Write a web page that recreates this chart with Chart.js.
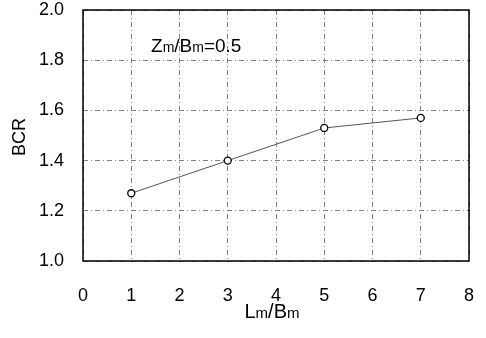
<!DOCTYPE html>
<html>
<head>
<meta charset="utf-8">
<style>
  html, body { margin: 0; padding: 0; background: #fff; }
  #wrap { width: 486px; height: 338px; }
</style>
<script src="https://cdn.jsdelivr.net/npm/chart.js@4.4.1/dist/chart.umd.min.js"></script>
</head>
<body>
<div id="wrap"><canvas id="bcrChart"></canvas></div>
<script>
// Data
const lmBm = [1, 3, 5, 7];
const bcr = [1.27, 1.40, 1.53, 1.57];
const xTicks = [0, 1, 2, 3, 4, 5, 6, 7, 8];
const yTicks = [1.0, 1.2, 1.4, 1.6, 1.8, 2.0];

const FONT = "'Liberation Sans', Arial, sans-serif";

// draw text like "Lm/Bm" where the 'm' is small
function drawMixed(ctx, parts, x, y, align) {
  let total = 0;
  parts.forEach((p) => {
    ctx.font = p.size + "px " + FONT;
    p.w = ctx.measureText(p.t).width;
    total += p.w;
  });
  let cx = align === "center" ? x - total / 2 : x;
  ctx.textAlign = "left";
  ctx.textBaseline = "alphabetic";
  parts.forEach((p) => {
    ctx.font = p.size + "px " + FONT;
    ctx.fillText(p.t, cx, y);
    cx += p.w;
  });
}

const labelsPlugin = {
  id: "labels",
  afterDraw(chart) {
    const ctx = chart.ctx;
    const area = chart.chartArea;
    const xs = chart.scales.x;
    const ys = chart.scales.y;
    ctx.save();
    ctx.fillStyle = "#000";

    // frame around the plot
    ctx.strokeStyle = "#000";
    ctx.lineWidth = 1.5;
    ctx.strokeRect(area.left, area.top, area.right - area.left, area.bottom - area.top);

    // annotation inside the plot
    drawMixed(ctx, [
      { t: "Z", size: 19 }, { t: "m", size: 14 }, { t: "/B", size: 19 },
      { t: "m", size: 14 }, { t: "=0.5", size: 19 }
    ], xs.getPixelForValue(1.41), ys.getPixelForValue(1.832), "left");

    // x axis title
    drawMixed(ctx, [
      { t: "L", size: 20 }, { t: "m", size: 15 }, { t: "/B", size: 20 }, { t: "m", size: 15 }
    ], 272, 318, "center");

    // y axis title
    ctx.translate(25, 137);
    ctx.rotate(-Math.PI / 2);
    ctx.font = "18px " + FONT;
    ctx.textAlign = "center";
    ctx.textBaseline = "alphabetic";
    ctx.fillText("BCR", 0, 0);
    ctx.restore();
  }
};

const gridStyle = {
  color: "#808080",
  lineWidth: 1,
  drawTicks: false
};

function noPad(s) {
  s.paddingTop = 0;
  s.paddingBottom = 0;
  s.paddingLeft = 0;
  s.paddingRight = 0;
}

new Chart(document.getElementById("bcrChart"), {
  type: "line",
  data: {
    datasets: [{
      data: lmBm.map((x, i) => ({ x: x, y: bcr[i] })),
      borderColor: "#555",
      borderWidth: 1,
      pointRadius: 3.5,
      pointBorderWidth: 1.3,
      pointBorderColor: "#000",
      pointBackgroundColor: "#fff",
      tension: 0
    }]
  },
  options: {
    responsive: true,
    maintainAspectRatio: false,
    animation: false,
    layout: { padding: { top: 10, right: 17, left: 0, bottom: 0 } },
    plugins: {
      legend: { display: false },
      tooltip: { enabled: false }
    },
    scales: {
      x: {
        type: "linear",
        min: 0,
        max: 8,
        afterBuildTicks: (s) => { s.ticks = xTicks.map((v) => ({ value: v })); },
        afterFit: (s) => { s.height = 77; noPad(s); },
        grid: gridStyle,
        border: { display: false, dash: [5, 3, 1, 3] },
        ticks: {
          padding: 24,
          color: "#000",
          font: { family: FONT, size: 18 },
          callback: (v) => String(v)
        }
      },
      y: {
        min: 1.0,
        max: 2.0,
        afterBuildTicks: (s) => { s.ticks = yTicks.map((v) => ({ value: v })); },
        afterFit: (s) => { s.width = 83; noPad(s); },
        grid: gridStyle,
        border: { display: false, dash: [5, 3, 1, 3] },
        ticks: {
          padding: 19,
          color: "#000",
          font: { family: FONT, size: 18 },
          callback: (v) => v.toFixed(1)
        }
      }
    }
  },
  plugins: [labelsPlugin]
});
</script>
</body>
</html>
